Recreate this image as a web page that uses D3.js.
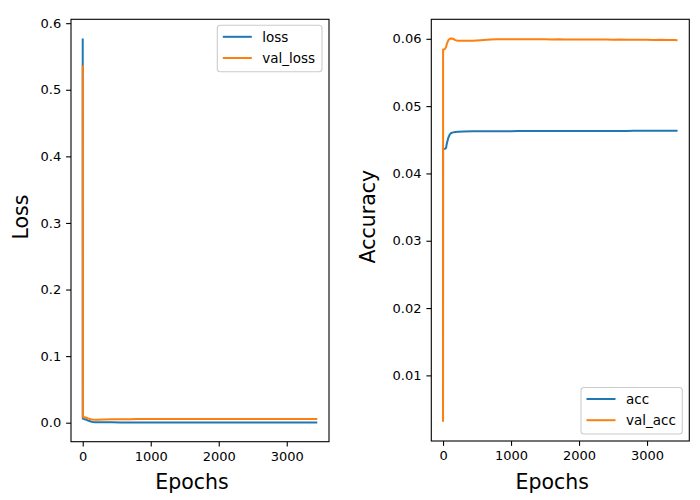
<!DOCTYPE html>
<html>
<head>
<meta charset="utf-8">
<script src="https://cdn.jsdelivr.net/npm/d3@7"></script>
<style>
    body { margin: 0; background: #fff; }
    svg text { font-family: "DejaVu Sans", sans-serif; fill: #000; }
</style>
</head>
<body>
<div id="chart"></div>
<script>
const epochs = [0, 1, 10, 30, 45, 55, 78, 100, 120, 150, 180, 220, 300, 440, 550,
    700, 800, 900, 1000, 1100, 1200, 1300, 1400, 1500, 1600, 1700, 1800, 1900, 2000,
    2100, 2200, 2300, 2400, 2500, 2600, 2700, 2800, 2900, 3000, 3100, 3200, 3300, 3400, 3449];

const loss = [0.577, 0.0062, 0.0058, 0.0052, 0.0046, 0.0042, 0.0033, 0.0025, 0.0018, 0.0011, 0.0008, 0.0006, 0.0005, 0.0005, 0.0004,
    0.0004, 0.0004, 0.0004, 0.0004, 0.0004, 0.0004, 0.0004, 0.0004, 0.0004, 0.0004, 0.0004, 0.0004, 0.0004, 0.0004,
    0.0004, 0.0004, 0.0004, 0.0004, 0.0004, 0.0004, 0.0004, 0.0004, 0.0004, 0.0003, 0.0003, 0.0003, 0.0003, 0.0003, 0.0003];

const valLoss = [0.537, 0.0085, 0.0084, 0.0082, 0.0078, 0.0074, 0.0065, 0.0058, 0.0052, 0.0047, 0.0045, 0.0046, 0.0048, 0.0051, 0.0052,
    0.0053, 0.0054, 0.0055, 0.0056, 0.0054, 0.0055, 0.0054, 0.0056, 0.0055, 0.0054, 0.0055, 0.0055, 0.0054, 0.0056,
    0.0055, 0.0054, 0.0055, 0.0055, 0.0054, 0.0056, 0.0055, 0.0054, 0.0055, 0.0055, 0.0054, 0.0055, 0.0055, 0.0055, 0.0055];

const acc = [0.0035, 0.04365, 0.04365, 0.04368, 0.0438, 0.0444, 0.0453, 0.0458, 0.0460, 0.0461, 0.04615, 0.04618, 0.04622, 0.04625, 0.04626,
    0.04627, 0.04627, 0.04628, 0.04628, 0.04629, 0.04629, 0.04629, 0.0463, 0.0463, 0.0463, 0.0463, 0.0463, 0.04631, 0.04631,
    0.04631, 0.04631, 0.04632, 0.04632, 0.04632, 0.04632, 0.04632, 0.04633, 0.04633, 0.04633, 0.04633, 0.04633, 0.04633, 0.04633, 0.04633];

const valAcc = [0.0031, 0.0584, 0.0584, 0.0585, 0.0588, 0.0592, 0.0598, 0.0600, 0.06005, 0.0600, 0.0598, 0.0597, 0.0597, 0.0597, 0.0598,
    0.0599, 0.05992, 0.05994, 0.05992, 0.05995, 0.05993, 0.05994, 0.05992, 0.05993, 0.05991, 0.05992, 0.0599, 0.05991, 0.05989,
    0.0599, 0.05988, 0.05989, 0.05988, 0.05987, 0.05988, 0.05986, 0.05987, 0.05985, 0.05986, 0.05984, 0.05985, 0.05983, 0.05982, 0.0598];

const xTicks = [0, 1000, 2000, 3000];
const lossTicks = [0.0, 0.1, 0.2, 0.3, 0.4, 0.5, 0.6];
const accTicks = [0.01, 0.02, 0.03, 0.04, 0.05, 0.06];

const blue = '#1f77b4';
const orange = '#ff7f0e';

const svg = d3.select('#chart')
    .append('svg')
    .attr('width', 700)
    .attr('height', 500);

/**
 * One matplotlib-like subplot: frame, ticks, two series and a legend
 */
class Panel{
    /**
     * @param box  [left, top, right, bottom] of the axes frame in pixels
     * @param series list of {name, values, color}
     * @param opts yTicks, yFormat, yLabel, legendAt ('upper right' | 'lower right')
     */
    constructor(box, series, opts) {
        this.box = box;
        this.series = series;
        this.opts = opts;
        this.g = svg.append('g');
    }

    pad(extent){
        const d = (extent[1] - extent[0]) * 0.05;
        return [extent[0] - d, extent[1] + d];
    }

    draw(){
        const [left, top, right, bottom] = this.box;
        const all = this.series.flatMap(s => s.values);

        const x = d3.scaleLinear()
            .domain(this.pad(d3.extent(epochs)))
            .range([left, right]);
        const y = d3.scaleLinear()
            .domain(this.pad(d3.extent(all)))
            .range([bottom, top]);

        // series
        const line = d3.line()
            .x((d, i) => x(epochs[i]))
            .y(d => y(d));

        this.series.forEach(s => {
            this.g.append('path')
                .datum(s.values)
                .attr('d', line)
                .attr('fill', 'none')
                .attr('stroke', s.color)
                .attr('stroke-width', 2)
                .attr('stroke-linejoin', 'round');
        });

        // axes
        const xAxis = this.g.append('g')
            .attr('transform', 'translate(0,' + bottom + ')')
            .call(d3.axisBottom(x).tickValues(xTicks).tickFormat(d3.format('d'))
                .tickSize(4.9).tickPadding(4.9).tickSizeOuter(0));
        const yAxis = this.g.append('g')
            .attr('transform', 'translate(' + left + ',0)')
            .call(d3.axisLeft(y).tickValues(this.opts.yTicks).tickFormat(d3.format(this.opts.yFormat))
                .tickSize(4.9).tickPadding(4.9).tickSizeOuter(0));

        [xAxis, yAxis].forEach(a => {
            a.select('.domain').remove();
            a.selectAll('line').attr('stroke', '#000').attr('stroke-width', 1.1);
            a.selectAll('text').attr('font-size', 13).attr('font-family', 'DejaVu Sans').attr('fill', '#000');
        });

        // frame
        this.g.append('rect')
            .attr('x', left)
            .attr('y', top)
            .attr('width', right - left)
            .attr('height', bottom - top)
            .attr('fill', 'none')
            .attr('stroke', '#000')
            .attr('stroke-width', 1.1);

        // labels
        const cx = (left + right) / 2 - 8;
        const cy = (top + bottom) / 2 - 13.5;
        this.g.append('text')
            .attr('x', cx)
            .attr('y', 489)
            .attr('text-anchor', 'middle')
            .attr('font-size', 20.5)
            .text('Epochs');
        this.g.append('text')
            .attr('transform', 'translate(' + (left - this.opts.yLabelOffset) + ',' + cy + ')rotate(-90)')
            .attr('text-anchor', 'middle')
            .attr('font-size', 20.5)
            .text(this.opts.yLabel);

        this.drawLegend();
    }

    drawLegend(){
        const [left, top, right, bottom] = this.box;
        const w = this.opts.legendWidth, h = 46.5;
        const lx = right - 7 - w;
        const ly = this.opts.legendAt === 'upper right' ? top + 6 : bottom - 7 - h;

        const lg = this.g.append('g')
            .attr('transform', 'translate(' + lx + ',' + ly + ')');
        lg.append('rect')
            .attr('width', w)
            .attr('height', h)
            .attr('rx', 3)
            .attr('fill', 'rgba(255,255,255,0.8)')
            .attr('stroke', '#cccccc')
            .attr('stroke-width', 1.1);

        this.series.forEach((s, i) => {
            const ry = 11.5 + i * 21.2;
            lg.append('line')
                .attr('x1', 5.5)
                .attr('x2', 34.5)
                .attr('y1', ry)
                .attr('y2', ry)
                .attr('stroke', s.color)
                .attr('stroke-width', 2);
            lg.append('text')
                .attr('x', 45)
                .attr('y', ry + 5)
                .attr('font-size', 13.5)
                .text(s.name);
        });
    }
}

new Panel([71, 19.3, 329, 441.7],
    [{name: 'loss', values: loss, color: blue}, {name: 'val_loss', values: valLoss, color: orange}],
    {yTicks: lossTicks, yFormat: '.1f', yLabel: 'Loss', yLabelOffset: 42.7, legendAt: 'upper right', legendWidth: 104.7}
).draw();

new Panel([431.3, 19.3, 689.3, 441],
    [{name: 'acc', values: acc, color: blue}, {name: 'val_acc', values: valAcc, color: orange}],
    {yTicks: accTicks, yFormat: '.2f', yLabel: 'Accuracy', yLabelOffset: 56.3, legendAt: 'lower right', legendWidth: 101.3}
).draw();
</script>
</body>
</html>
